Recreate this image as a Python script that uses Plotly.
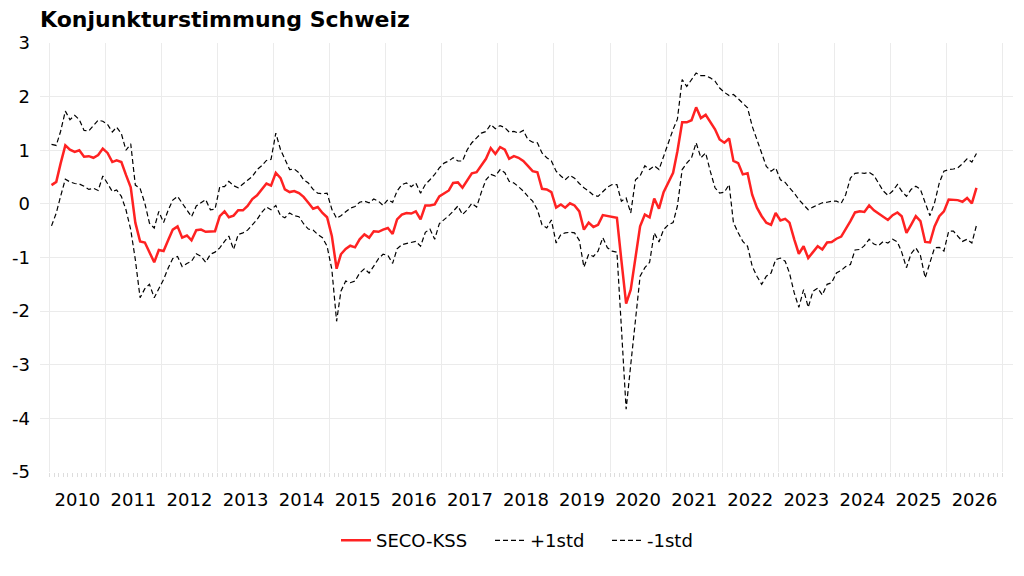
import pandas as pd
import plotly.graph_objects as go

# monthly values, Jan 2010 .. Jul 2026
months = pd.date_range("2010-01-01", "2026-07-01", freq="MS") + pd.Timedelta(days=14)

seco_kss = [
    0.35, 0.41, 0.75, 1.09, 1.01, 0.97, 1.00, 0.88, 0.89, 0.86, 0.91, 1.03,
    0.95, 0.78, 0.81, 0.78, 0.54, 0.31, -0.35, -0.70, -0.72, -0.91, -1.09, -0.86,
    -0.88, -0.67, -0.48, -0.42, -0.63, -0.59, -0.68, -0.49, -0.48, -0.52, -0.52, -0.51,
    -0.23, -0.14, -0.25, -0.22, -0.12, -0.12, -0.04, 0.09, 0.16, 0.27, 0.38, 0.34,
    0.58, 0.48, 0.27, 0.22, 0.24, 0.20, 0.13, 0.02, -0.09, -0.06, -0.17, -0.25,
    -0.60, -1.21, -0.94, -0.84, -0.78, -0.81, -0.66, -0.57, -0.63, -0.51, -0.52, -0.48,
    -0.45, -0.56, -0.29, -0.20, -0.17, -0.18, -0.14, -0.29, -0.03, -0.03, -0.01, 0.14,
    0.20, 0.25, 0.39, 0.40, 0.30, 0.45, 0.57, 0.59, 0.71, 0.84, 1.04, 0.93,
    1.06, 1.01, 0.84, 0.89, 0.86, 0.80, 0.71, 0.61, 0.59, 0.28, 0.27, 0.22,
    -0.07, -0.01, -0.07, 0.01, -0.03, -0.14, -0.48, -0.35, -0.43, -0.39, -0.21, -0.23,
    -0.25, -0.26, -1.05, -1.86, -1.60, -1.04, -0.42, -0.20, -0.25, 0.10, -0.09, 0.22,
    0.39, 0.58, 0.98, 1.52, 1.52, 1.56, 1.80, 1.60, 1.66, 1.52, 1.39, 1.20,
    1.14, 1.22, 0.80, 0.76, 0.55, 0.57, 0.17, -0.07, -0.23, -0.35, -0.39, -0.17,
    -0.31, -0.28, -0.35, -0.66, -0.93, -0.79, -1.01, -0.90, -0.79, -0.85, -0.72, -0.71,
    -0.65, -0.61, -0.48, -0.32, -0.16, -0.14, -0.15, -0.03, -0.12, -0.18, -0.23, -0.30,
    -0.21, -0.16, -0.23, -0.54, -0.39, -0.23, -0.32, -0.71, -0.72, -0.42, -0.23, -0.14,
    0.08, 0.08, 0.07, 0.04, 0.11, 0.01, 0.30,
]

plus_1std = [
    1.11, 1.09, 1.35, 1.73, 1.57, 1.65, 1.57, 1.37, 1.36, 1.46, 1.56, 1.54,
    1.48, 1.34, 1.43, 1.31, 1.00, 1.12, 0.35, 0.29, 0.01, -0.36, -0.45, -0.14,
    -0.35, -0.11, 0.07, 0.14, 0.02, -0.11, -0.24, -0.04, 0.02, 0.08, -0.11, -0.10,
    0.32, 0.32, 0.42, 0.34, 0.30, 0.38, 0.44, 0.51, 0.64, 0.71, 0.81, 0.83,
    1.32, 1.01, 0.83, 0.64, 0.65, 0.58, 0.45, 0.39, 0.27, 0.20, 0.19, 0.20,
    -0.10, -0.27, -0.22, -0.15, -0.08, -0.05, 0.03, 0.05, 0.02, 0.09, 0.05, -0.03,
    0.08, 0.03, 0.24, 0.36, 0.39, 0.32, 0.39, 0.20, 0.36, 0.45, 0.55, 0.67,
    0.76, 0.80, 0.86, 0.80, 0.80, 1.01, 1.14, 1.23, 1.32, 1.35, 1.48, 1.40,
    1.46, 1.42, 1.34, 1.35, 1.32, 1.37, 1.20, 1.15, 1.14, 0.95, 0.86, 0.80,
    0.61, 0.52, 0.45, 0.53, 0.48, 0.38, 0.30, 0.24, 0.16, 0.14, 0.22, 0.31,
    0.36, 0.36, 0.05, 0.11, -0.17, 0.45, 0.52, 0.71, 0.64, 0.71, 0.64, 0.89,
    1.11, 1.39, 1.58, 2.32, 2.19, 2.33, 2.44, 2.39, 2.39, 2.35, 2.29, 2.16,
    2.08, 2.02, 2.04, 1.96, 1.88, 1.79, 1.45, 1.20, 0.98, 0.70, 0.61, 0.67,
    0.45, 0.40, 0.30, 0.20, 0.08, -0.01, -0.11, -0.06, -0.02, 0.02, 0.03, 0.05,
    0.05, 0.01, 0.17, 0.48, 0.57, 0.58, 0.57, 0.59, 0.53, 0.39, 0.24, 0.16,
    0.24, 0.36, 0.24, 0.14, 0.27, 0.33, 0.27, 0.02, -0.22, 0.02, 0.39, 0.61,
    0.64, 0.65, 0.67, 0.75, 0.84, 0.78, 0.94,
]

minus_1std = [
    -0.41, -0.17, 0.14, 0.46, 0.41, 0.38, 0.37, 0.33, 0.27, 0.29, 0.25, 0.52,
    0.38, 0.23, 0.26, 0.14, -0.11, -0.48, -1.04, -1.75, -1.58, -1.50, -1.75, -1.57,
    -1.41, -1.19, -1.02, -0.98, -1.17, -1.11, -1.07, -0.93, -0.98, -1.09, -0.94, -0.90,
    -0.82, -0.70, -0.60, -0.85, -0.57, -0.54, -0.49, -0.39, -0.29, -0.16, -0.06, -0.11,
    -0.03, -0.22, -0.26, -0.17, -0.22, -0.24, -0.37, -0.47, -0.49, -0.57, -0.63, -0.79,
    -1.22, -2.19, -1.63, -1.44, -1.47, -1.44, -1.29, -1.21, -1.29, -1.16, -1.02, -0.94,
    -0.96, -1.11, -0.84, -0.76, -0.74, -0.71, -0.70, -0.79, -0.53, -0.47, -0.66, -0.37,
    -0.30, -0.22, -0.14, -0.04, -0.20, -0.11, 0.01, -0.06, 0.22, 0.45, 0.55, 0.52,
    0.64, 0.58, 0.42, 0.39, 0.32, 0.24, 0.14, 0.05, -0.11, -0.39, -0.45, -0.30,
    -0.73, -0.57, -0.54, -0.53, -0.54, -0.68, -1.18, -0.94, -0.98, -0.88, -0.63, -0.82,
    -0.88, -0.90, -2.30, -3.83, -3.00, -2.09, -1.35, -1.19, -1.09, -0.54, -0.71, -0.48,
    -0.39, -0.35, -0.04, 0.64, 0.76, 0.86, 1.14, 0.86, 0.95, 0.61, 0.30, 0.20,
    0.22, 0.36, -0.35, -0.54, -0.70, -0.79, -1.16, -1.35, -1.50, -1.35, -1.29, -1.04,
    -1.01, -1.07, -1.29, -1.66, -1.93, -1.60, -1.93, -1.63, -1.57, -1.70, -1.50, -1.47,
    -1.29, -1.24, -1.17, -1.13, -0.86, -0.85, -0.78, -0.66, -0.75, -0.78, -0.70, -0.73,
    -0.66, -0.71, -0.90, -1.19, -0.93, -0.82, -0.96, -1.38, -1.10, -0.82, -0.81, -0.88,
    -0.51, -0.51, -0.60, -0.70, -0.66, -0.73, -0.40,
]

y_ticks = [3, 2, 1, 0, -1, -2, -3, -4, -5]
y_labels = ["3", "2", "1", "0", "-1", "-2", "-3", "-4", "-5"]
month_ticks = pd.date_range("2010-01-01", "2027-01-01", freq="MS")

fig = go.Figure()
fig.add_trace(go.Scatter(x=months, y=seco_kss, name="SECO-KSS", mode="lines",
                         line=dict(color="#ff2222", width=2.5), legend="legend"))
fig.add_trace(go.Scatter(x=months, y=plus_1std, name="+1std", mode="lines",
                         line=dict(color="black", width=1.2, dash="5px,3px"), legend="legend2"))
fig.add_trace(go.Scatter(x=months, y=minus_1std, name="-1std", mode="lines",
                         line=dict(color="black", width=1.2, dash="5px,3px"), legend="legend3"))

# one legend per entry, to keep the wide gaps between them
leg = dict(orientation="h", xanchor="left", y=-0.16, yanchor="middle",
           font=dict(size=18), bgcolor="rgba(0,0,0,0)")

fig.update_layout(
    width=1024, height=576,
    showlegend=True,
    margin=dict(l=40, r=11, t=43, b=104),
    paper_bgcolor="white",
    plot_bgcolor="white",
    font=dict(family="DejaVu Sans", size=18, color="black"),
    title=dict(text="<b>Konjunkturstimmung Schweiz</b>", x=40/1024, xanchor="left",
               y=1 - 19/576, yanchor="middle", font=dict(size=22)),
    legend=dict(leg, x=(336 - 40) / 973),
    legend2=dict(leg, x=(490 - 40) / 973),
    legend3=dict(leg, x=(607 - 40) / 973),
    xaxis=dict(
        type="date",
        range=["2009-11-01", "2027-03-10"],
        tick0="2010-01-01", dtick="M12", tickformat="%Y",
        ticklabelmode="period",
        showgrid=True, gridcolor="#ebebeb", gridwidth=1,
        ticks="", ticklabelstandoff=15,
        zeroline=False, showline=False, automargin=False,
        minor=dict(tickmode="array", tickvals=month_ticks, ticks="outside",
                   ticklen=4, tickcolor="#dddddd", tickwidth=1, showgrid=False),
    ),
    yaxis=dict(
        range=[-5, 3], tickmode="array", tickvals=y_ticks, ticktext=y_labels,
        showgrid=True, gridcolor="#ebebeb", gridwidth=1,
        zeroline=False, showline=False, ticks="", automargin=False,
        ticklabelstandoff=9,
    ),
)

# drop the default 8px page margin so the figure sits at the window corner
fig.write_html("out.html", config={"displayModeBar": False},
               post_script="document.body.style.margin='0';")
